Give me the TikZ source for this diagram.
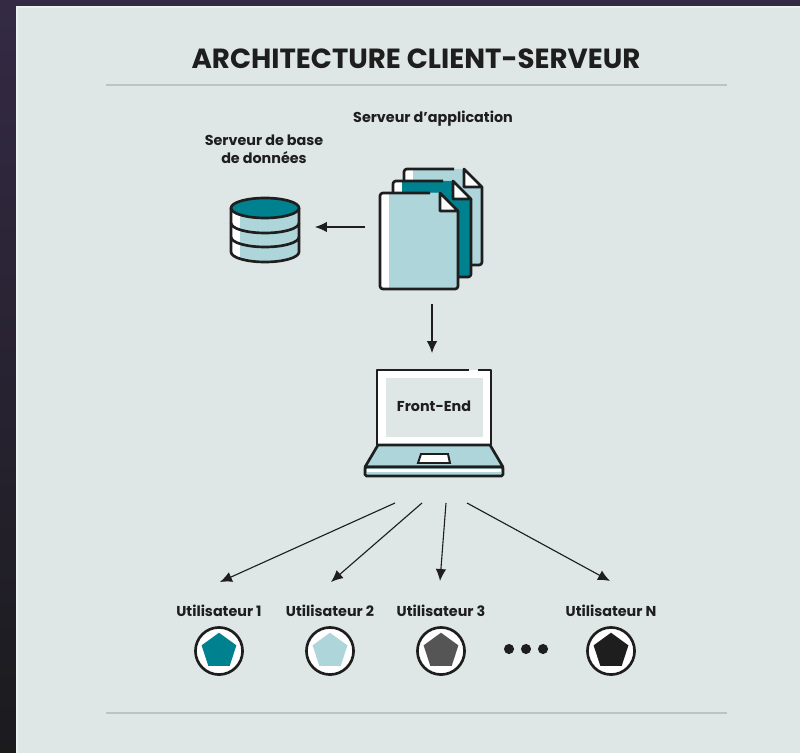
\documentclass[tikz,border=0pt]{standalone}
\usepackage{fontspec}
\setmainfont{Poppins}
\usetikzlibrary{arrows.meta,shapes.geometric}
\definecolor{panelcol}{HTML}{DEE7E5}
\definecolor{rulecol}{HTML}{BAC5C3}
\definecolor{inkcol}{HTML}{1E1E1E}
\definecolor{tealcol}{HTML}{00818F}
\definecolor{palecol}{HTML}{AED5DA}
\definecolor{greycol}{HTML}{555555}
\definecolor{backtop}{HTML}{342A44}
\definecolor{backfoot}{HTML}{1B1B1E}
\tikzset{
  outline/.style={draw=inkcol,line width=1.9pt,line join=round},
  flow/.style={draw=inkcol,line width=0.8pt,-{Latex[length=8.5pt,width=7.5pt]}},
  sep/.style={draw=rulecol,line width=0.9pt},
  tag/.style={font=\fontsize{10.2}{13}\selectfont\bfseries,text=inkcol,align=center,inner sep=0pt},
  penta/.style={regular polygon,regular polygon sides=5,minimum size=26pt,inner sep=0pt},
  disc/.style={circle,draw=inkcol,fill=white,line width=1.9pt,minimum size=33.5pt,inner sep=0pt},
  dot/.style={circle,fill=inkcol,minimum size=7.2pt,inner sep=0pt}
}
\begin{document}
\begin{tikzpicture}[x=0.025cm,y=-0.025cm]
  \useasboundingbox (0,0) rectangle (800,753);
  % backdrop and panel
  \shade [top color=backtop,bottom color=backfoot] (0,0) rectangle (800,753);
  \fill [panelcol!60!white] (16,6) rectangle (800,753);
  \fill [panelcol] (18,8) rectangle (800,753);
  \node (title) [font=\fontsize{19.7}{24}\selectfont\bfseries,text=inkcol,inner sep=0pt] at (416,59) {ARCHITECTURE CLIENT-SERVEUR};
  \coordinate (ruleTL) at (106,85);
  \coordinate (ruleTR) at (727,85);
  \coordinate (ruleBL) at (106,713);
  \coordinate (ruleBR) at (727,713);
  \draw [sep] (ruleTL) -- (ruleTR);
  \draw [sep] (ruleBL) -- (ruleBR);

  \node (appname) [tag] at (433,119) {Serveur d'application};
  \node (dbname) [tag] at (264,149) {Serveur de base\\de données};

  % database
  \fill [white] (231,208) -- (231,252) arc (180:0:34 and 10) -- (299,208) -- cycle;
  \fill [palecol] (240,208) -- (240,258.8) arc (137:0:34 and 10) -- (299,208) -- cycle;
  \draw [outline] (231,208) -- (231,252) arc (180:0:34 and 10) -- (299,208);
  \draw [outline] (231,223) arc (180:0:34 and 10);
  \draw [outline] (231,237) arc (180:0:34 and 10);
  \draw [outline,fill=tealcol] (265,208) ellipse (34 and 10);

  % stack of pages
  \foreach \dx/\dy/\col in {24/-24/palecol,13/-12/tealcol,0/0/palecol}{
    \begin{scope}[shift={(\dx,\dy)}]
      \fill [white] (380,193) -- (440,193) -- (458,211) -- (458,289) -- (380,289) -- cycle;
      \fill [\col] (389,193) -- (440,193) -- (458,211) -- (458,284) -- (455,289) -- (389,289) -- cycle;
      \draw [outline,rounded corners=2pt] (430,193) -- (380,193) -- (380,289) -- (458,289) -- (458,211);
      \draw [outline,fill=white] (440,193) -- (458,211) -- (440,211) -- cycle;
    \end{scope}
  }
  \coordinate (appleft) at (365,227);
  \coordinate (appfoot) at (432,304);

  % laptop
  \fill [white] (377,370) rectangle (492,445);
  \fill [panelcol] (386,378) rectangle (483,437);
  \draw [outline] (469,370) -- (377,370) -- (377,445) -- (491,445) -- (491,370) -- (478,370);
  \node (frontend) [tag] at (434,406) {Front-End};
  \draw [outline,fill=palecol] (378,445) -- (490,445) -- (503,467) -- (365,467) -- cycle;
  \draw [line width=1.4pt,draw=inkcol,fill=white] (421,454) -- (448,454) -- (450,463) -- (418,463) -- cycle;
  \draw [outline,fill=palecol,rounded corners=1pt] (365,467) rectangle (503,476);
  \fill [white] (367,469) rectangle (501,471.5);
  \coordinate (laptop) at (432,353);
  \coordinate (lap1) at (395,503);
  \coordinate (lap2) at (422,503);
  \coordinate (lap3) at (446,503);
  \coordinate (lap4) at (467,503);

  % users
  \foreach \name/\xx/\col/\txt in {user1/219/tealcol/1,user2/330/palecol/2,user3/441/greycol/3,userN/611/inkcol/N}{
    \node (\name) [tag] at (\xx,610.5) {Utilisateur \txt};
    \node (disc\name) [disc] at (\xx,651) {};
    \node (penta\name) [penta,fill=\col] at (\xx,651) {};
  }
  \node (dot1) [dot] at (509,649) {};
  \node (dot2) [dot] at (526,649) {};
  \node (dot3) [dot] at (543,649) {};

  % connectors
  \coordinate (dbright) at (315,227);
  \coordinate (tip1) at (220,582);
  \coordinate (tip2) at (331,582);
  \coordinate (tip3) at (440,581);
  \coordinate (tipN) at (610,581);
  \draw [flow] (appleft) -- (dbright);
  \draw [flow] (appfoot) -- (laptop);
  \draw [flow] (lap1) -- (tip1);
  \draw [flow] (lap2) -- (tip2);
  \draw [flow] (lap3) -- (tip3);
  \draw [flow] (lap4) -- (tipN);
\end{tikzpicture}
\end{document}
